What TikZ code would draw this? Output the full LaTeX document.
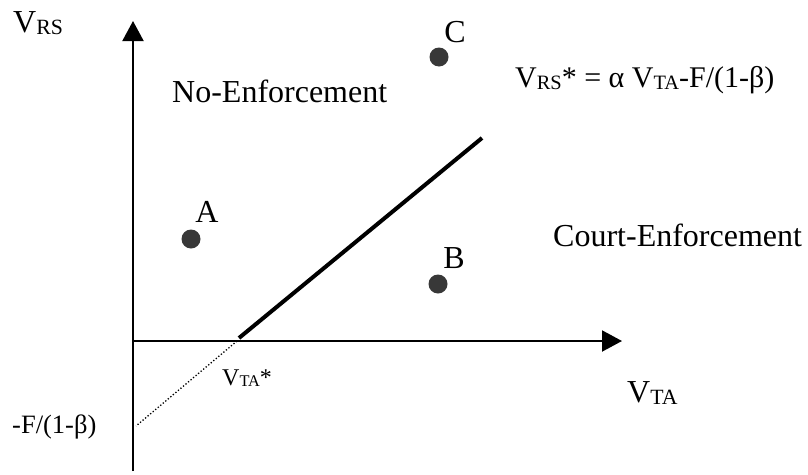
\documentclass[tikz,border=0pt]{standalone}
\usepackage{fontspec}
\usepackage{graphicx}
\setmainfont{Liberation Serif}
\usetikzlibrary{arrows.meta}
\newcommand\lsub[1]{\raisebox{-0.08em}{\scalebox{0.68}{#1}}}
\definecolor{dotgray}{HTML}{383838}
\begin{document}
\begin{tikzpicture}[x=1pt,y=-1pt,
  axis/.style={line width=2pt,-{Triangle[length=20pt,width=21pt]}},
  boundary/.style={line width=4pt},
  extension/.style={line width=1.3pt,dotted},
  pt/.style={circle,fill=dotgray,minimum size=19pt,inner sep=0pt},
  big/.style={font=\fontsize{32}{38}\selectfont,inner sep=0pt,anchor=base west},
  mid/.style={font=\fontsize{30}{35}\selectfont,inner sep=0pt,anchor=base west},
  small/.style={font=\fontsize{24}{29}\selectfont,inner sep=0pt,anchor=base west},
  smallb/.style={font=\fontsize{26.5}{31}\selectfont,inner sep=0pt,anchor=base west},
  letter/.style={font=\fontsize{32}{38}\selectfont,inner sep=0pt,anchor=base}]
\useasboundingbox (0,0) rectangle (808,474);
\coordinate (O) at (133,341);
\coordinate (ytop) at (133,21);
\coordinate (ybot) at (133,471);
\coordinate (xtip) at (622,341);
\coordinate (vstar) at (237,341);
\coordinate (bstart) at (239,338);
\coordinate (bend) at (482,138);
\coordinate (icpt) at (136,426);
\draw[axis] (ybot) -- (ytop);
\draw[axis] (O) -- (xtip);
\draw[boundary] (bstart) -- (bend);
\draw[extension] (vstar) -- (icpt);
\node[pt] (A) at (191,239) {};
\node[pt] (B) at (438,284) {};
\node[pt] (C) at (439,57) {};
\node[letter] (Al) at (207,222) {A};
\node[letter] (Bl) at (454,268) {B};
\node[letter] (Cl) at (455,42) {C};
\node[big] (vrs) at (13,32) {V\lsub{RS}};
\node[big] (noenf) at (172,102) {No-Enforcement};
\node[big] (court) at (553,246) {Court-Enforcement};
\node[big] (vta) at (627,402) {V\lsub{TA}};
\node[mid] (eq) at (515,87) {V\lsub{RS}* = α V\lsub{TA}-F/(1-β)};
\node[small] (vtastar) at (222,385) {V\lsub{TA}*};
\node[smallb] (fint) at (12,433) {-F/(1-β)};
\end{tikzpicture}
\end{document}
